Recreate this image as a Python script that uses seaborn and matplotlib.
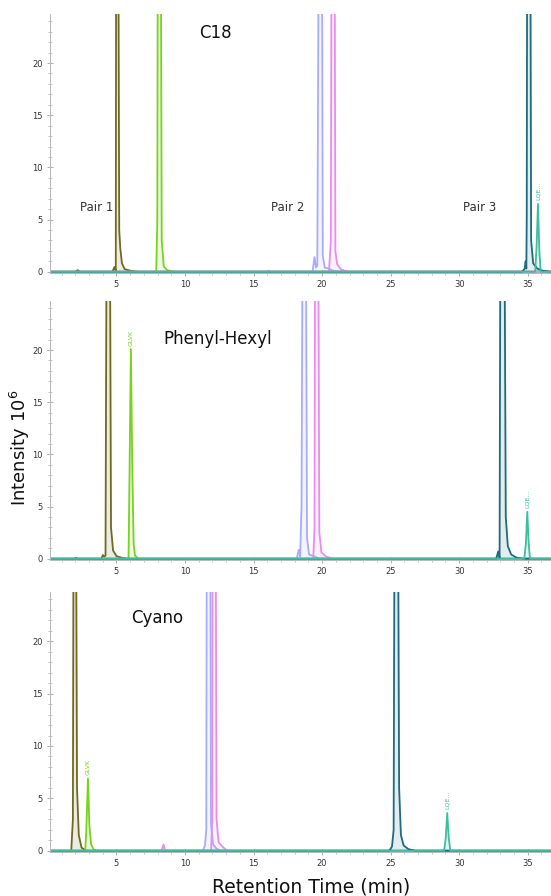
import matplotlib
matplotlib.use("Agg")
import matplotlib.pyplot as plt
from matplotlib.ticker import MultipleLocator
import seaborn as sns

# colours of the six compounds (3 pairs)
OLIVE, GREEN = "#6f6a20", "#78d21e"
PERI, PINK = "#a9acf7", "#e98cf0"
TEAL, TURQ = "#1e6a7e", "#3bbfa0"

XMIN, XMAX = 0.15, 36.7
YMAX = 24.7

# ---- C18 traces (time in min, intensity in 10^6) ----
c18_olive_t = [0.1, 2.0, 2.17, 2.35, 4.7, 4.85, 4.95, 4.98, 5.12, 5.2, 5.28, 5.4, 5.6, 6.0, 6.6, 36.7]
c18_olive_i = [0, 0, 0.15, 0, 0, 0.45, 0.1, 40, 40, 4, 2.2, 0.8, 0.25, 0.1, 0, 0]
c18_green_t = [0.1, 7.9, 7.98, 8.02, 8.22, 8.3, 8.45, 8.7, 9.2, 36.7]
c18_green_i = [0, 0, 5, 40, 40, 3, 0.5, 0.15, 0, 0]
c18_peri_t = [0.1, 16.0, 16.1, 16.2, 19.3, 19.45, 19.55, 19.65, 19.78, 19.98, 20.05, 20.2, 20.5, 20.8, 21.2, 36.7]
c18_peri_i = [0, 0, 0.1, 0, 0, 1.4, 0.4, 0.6, 40, 40, 1.5, 0.4, 0.3, 0.1, 0, 0]
c18_pink_t = [0.1, 20.5, 20.64, 20.7, 20.9, 20.97, 21.1, 21.4, 21.9, 36.7]
c18_pink_i = [0, 0, 3, 40, 40, 2.0, 0.7, 0.2, 0, 0]
c18_teal_t = [0.1, 34.6, 34.78, 34.85, 34.9, 34.93, 34.97, 35.18, 35.25, 35.4, 35.7, 36.1, 36.7]
c18_teal_i = [0, 0, 0.3, 1.0, 0.3, 5, 40, 40, 3, 0.8, 0.3, 0.1, 0]
c18_turq_t = [0.1, 35.55, 35.65, 35.75, 35.85, 35.95, 36.7]
c18_turq_i = [0, 0, 2.5, 6.5, 2.0, 0, 0]

# ---- Phenyl-Hexyl traces ----
ph_olive_t = [0.1, 1.9, 2.05, 2.2, 3.9, 4.0, 4.1, 4.2, 4.3, 4.5, 4.6, 4.75, 5.0, 5.5, 6.0, 36.7]
ph_olive_i = [0, 0, 0.1, 0, 0, 0.35, 0.2, 0.3, 40, 40, 3, 0.8, 0.25, 0.05, 0, 0]
ph_green_t = [0.1, 5.88, 5.95, 6.05, 6.15, 6.25, 6.35, 6.6, 36.7]
ph_green_i = [0, 0, 8, 20.1, 9, 1.5, 0.3, 0, 0]
ph_peri_t = [0.1, 18.15, 18.3, 18.4, 18.5, 18.6, 18.8, 18.9, 19.05, 19.4, 19.8, 36.7]
ph_peri_i = [0, 0, 0.85, 0.2, 5, 40, 40, 2, 0.4, 0.25, 0, 0]
ph_pink_t = [0.1, 19.35, 19.45, 19.5, 19.7, 19.8, 19.95, 20.3, 20.8, 36.7]
ph_pink_i = [0, 0, 3, 40, 40, 2.5, 0.6, 0.2, 0, 0]
ph_teal_t = [0.1, 32.7, 32.85, 32.95, 33.02, 33.28, 33.4, 33.55, 33.8, 34.2, 34.7, 36.7]
ph_teal_i = [0, 0, 0.7, 0.1, 40, 40, 4, 1.2, 0.4, 0.1, 0, 0]
ph_turq_t = [0.1, 34.75, 34.87, 34.97, 35.07, 35.17, 36.7]
ph_turq_i = [0, 0, 1.5, 4.5, 1.5, 0, 0]

# ---- Cyano traces ----
cy_olive_t = [0.1, 1.7, 1.82, 1.88, 2.03, 2.12, 2.25, 2.45, 2.8, 36.7]
cy_olive_i = [0, 0, 3, 40, 40, 6, 1.5, 0.3, 0, 0]
cy_green_t = [0.1, 2.72, 2.8, 2.92, 3.02, 3.15, 3.35, 3.6, 36.7]
cy_green_i = [0, 0, 2, 6.9, 2.5, 0.6, 0.1, 0, 0]
cy_peri_t = [0.1, 11.3, 11.45, 11.55, 11.6, 11.82, 11.9, 12.05, 12.3, 12.6, 36.7]
cy_peri_i = [0, 0, 0.5, 2, 40, 40, 2.5, 0.6, 0.2, 0, 0]
cy_pink_t = [0.1, 8.3, 8.43, 8.55, 11.9, 11.98, 12.02, 12.22, 12.3, 12.45, 12.8, 13.1, 36.7]
cy_pink_i = [0, 0, 0.6, 0, 0, 3, 40, 40, 3, 0.8, 0.3, 0, 0]
cy_teal_t = [0.1, 24.9, 25.1, 25.22, 25.3, 25.52, 25.62, 25.75, 25.95, 26.3, 26.8, 36.7]
cy_teal_i = [0, 0, 0.4, 2, 40, 40, 6, 1.5, 0.5, 0.15, 0, 0]
cy_turq_t = [0.1, 28.9, 29.02, 29.13, 29.24, 29.36, 36.7]
cy_turq_i = [0, 0, 1.2, 3.6, 1.2, 0, 0]

panel_names = ["C18", "Phenyl-Hexyl", "Cyano"]
panel_title_xy = [(12.25, 22.9), (12.4, 21.1), (7.97, 22.2)]
pair_labels = ["Pair 1", "Pair 2", "Pair 3"]
pair_label_x = [3.55, 17.5, 31.5]
pair_label_y = 6.2
# short peptide labels: (panel, text, time, height, colour)
peak_labels = [(1, "GLVK", 6.05, 20.4, GREEN), (2, "GLVK", 2.92, 7.2, GREEN),
               (0, "LQE...", 35.75, 6.9, TURQ), (1, "LQE...", 34.97, 4.9, TURQ),
               (2, "LQE...", 29.13, 4.0, TURQ)]

traces = [
    [(c18_olive_t, c18_olive_i, OLIVE), (c18_green_t, c18_green_i, GREEN),
     (c18_peri_t, c18_peri_i, PERI), (c18_pink_t, c18_pink_i, PINK),
     (c18_teal_t, c18_teal_i, TEAL), (c18_turq_t, c18_turq_i, TURQ)],
    [(ph_olive_t, ph_olive_i, OLIVE), (ph_green_t, ph_green_i, GREEN),
     (ph_peri_t, ph_peri_i, PERI), (ph_pink_t, ph_pink_i, PINK),
     (ph_teal_t, ph_teal_i, TEAL), (ph_turq_t, ph_turq_i, TURQ)],
    [(cy_olive_t, cy_olive_i, OLIVE), (cy_green_t, cy_green_i, GREEN),
     (cy_peri_t, cy_peri_i, PERI), (cy_pink_t, cy_pink_i, PINK),
     (cy_teal_t, cy_teal_i, TEAL), (cy_turq_t, cy_turq_i, TURQ)],
]

sns.set_style("white")
plt.rcParams["font.family"] = ["DejaVu Sans"]

fig = plt.figure(figsize=(5.51, 8.96), dpi=100)
W, H = 551, 896
left = 50 / W
boxes = [(14, 273), (301, 560), (592, 852)]  # top / bottom in pixels

for k, (top, bot) in enumerate(boxes):
    ax = fig.add_axes([left, 1 - bot / H, 1 - left, (bot - top) / H])
    for t, y, c in traces[k]:
        ax.fill_between(t, y, 0, color=c, alpha=0.12, lw=0)
        sns.lineplot(x=t, y=y, color=c, lw=1.3, estimator=None, sort=False, ax=ax)
    ax.set_xlim(XMIN, XMAX)
    ax.set_ylim(-0.12, YMAX)
    ax.set_xlabel("")
    ax.set_ylabel("")
    ax.xaxis.set_major_locator(MultipleLocator(5))
    ax.xaxis.set_minor_locator(MultipleLocator(1))
    ax.yaxis.set_major_locator(MultipleLocator(5))
    ax.yaxis.set_minor_locator(MultipleLocator(1))
    ax.set_xticks([5, 10, 15, 20, 25, 30, 35])
    ax.tick_params(which="both", left=True, bottom=True)
    ax.tick_params(which="major", direction="inout", length=4, width=0.6,
                   color="#a0a0a0", labelsize=6, labelcolor="#333333", pad=3)
    ax.tick_params(which="minor", direction="inout", length=3, width=0.5,
                   color="#b0b0b0")
    for side in ("top", "right"):
        ax.spines[side].set_visible(False)
    for side in ("left", "bottom"):
        ax.spines[side].set_color("#b8b8b8")
        ax.spines[side].set_linewidth(0.7)
    ax.patch.set_alpha(0)

    tx, ty = panel_title_xy[k]
    ax.text(tx, ty, panel_names[k], fontsize=12, color="#111111",
            ha="center", va="center")
    if k == 0:
        for lab, px in zip(pair_labels, pair_label_x):
            ax.text(px, pair_label_y, lab, fontsize=8.5, color="#333333",
                    ha="center", va="center")
    for pk, txt, px, py, c in peak_labels:
        if pk == k:
            ax.text(px, py, txt, fontsize=4.5, color=c, rotation=90,
                    ha="center", va="bottom")

fig.text(0.036, 0.5, "Intensity 10$^6$", rotation=90, fontsize=13,
         color="#111111", ha="center", va="center")
fig.text(0.565, 0.004, "Retention Time (min)", fontsize=13.5,
         color="#111111", ha="center", va="baseline")

fig.savefig("out.png", dpi=100)
